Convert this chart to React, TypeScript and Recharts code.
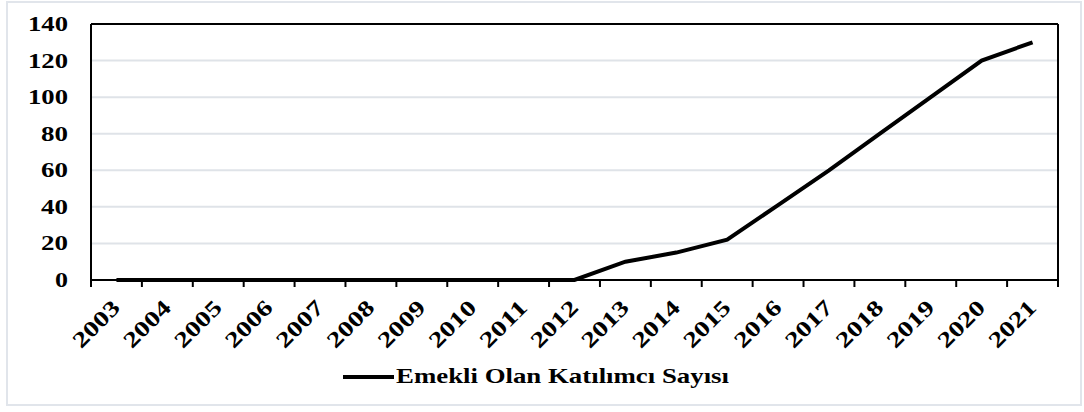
import { LineChart, Line, XAxis, YAxis, CartesianGrid, Legend, ReferenceLine } from "recharts";

const years = [2003, 2004, 2005, 2006, 2007, 2008, 2009, 2010, 2011, 2012, 2013, 2014, 2015, 2016, 2017, 2018, 2019, 2020, 2021];
const retired = [0, 0, 0, 0, 0, 0, 0, 0, 0, 0, 10, 15, 22, 41, 60, 80, 100, 120, 130];
const yTicks = [0, 20, 40, 60, 80, 100, 120, 140];
const seriesName = "Emekli Olan Katılımcı Sayısı";

const data = years.map((year, i) => ({ year, value: retired[i] }));
const edges = [...years.map((y) => y - 0.5), years[years.length - 1] + 0.5];
const domain: [number, number] = [edges[0], edges[edges.length - 1]];

const FONT = '"Liberation Serif", "Times New Roman", serif';

function YearTick({ x, y, payload }: { x?: number; y?: number; payload?: { value: number } }) {
  return (
    <g transform={`translate(${(x ?? 0) + 5},${(y ?? 0) + 20})`}>
      <text
        transform="rotate(-45)"
        textAnchor="end"
        fontFamily={FONT}
        fontWeight="bold"
        fontSize={22}
        fill="#000"
        textLength={57}
        lengthAdjust="spacingAndGlyphs"
      >
        {payload?.value}
      </text>
    </g>
  );
}

function ValueTick({ x, y, payload }: { x?: number; y?: number; payload?: { value: number } }) {
  const label = String(payload?.value ?? "");
  return (
    <text
      x={(x ?? 0) + 1}
      y={(y ?? 0) + 7}
      textAnchor="end"
      fontFamily={FONT}
      fontWeight="bold"
      fontSize={20}
      fill="#000"
      textLength={Math.round(label.length * 13.4)}
      lengthAdjust="spacingAndGlyphs"
    >
      {label}
    </text>
  );
}

function LegendContent() {
  return (
    <div style={{ display: "flex", justifyContent: "center", paddingLeft: 14, height: 44 }}>
      <svg width={386} height={44}>
        <line x1={0} x2={51} y1={17} y2={17} stroke="#000" strokeWidth={4} />
        <text
          x={53}
          y={23}
          fontFamily={FONT}
          fontWeight="bold"
          fontSize={22}
          fill="#000"
          textLength={333}
          lengthAdjust="spacingAndGlyphs"
        >
          {seriesName}
        </text>
      </svg>
    </div>
  );
}

export default function App() {
  return (
    <div style={{ position: "absolute", left: 0, top: 0, width: 1084, height: 412, background: "#fff" }}>
      <div
        style={{
          position: "absolute",
          left: 6,
          top: 1,
          width: 1076,
          height: 405,
          border: "2px solid #e1e5eb",
          boxSizing: "border-box",
        }}
      />
      <div style={{ position: "absolute", left: 0, top: 0 }}>
        <LineChart width={1084} height={412} data={data} margin={{ top: 24, right: 26, bottom: 8, left: 0 }}>
          <CartesianGrid vertical={false} stroke="#dfe3e8" strokeWidth={2} xAxisId="years" />
          <XAxis
            xAxisId="edges"
            dataKey="year"
            type="number"
            domain={domain}
            ticks={edges}
            interval={0}
            tick={() => <g />}
            tickLine={{ stroke: "#000", strokeWidth: 2 }}
            tickSize={7}
            axisLine={{ stroke: "#000", strokeWidth: 2 }}
            height={1}
          />
          <XAxis
            xAxisId="years"
            dataKey="year"
            type="number"
            domain={domain}
            ticks={years}
            interval={0}
            tick={<YearTick />}
            tickLine={false}
            axisLine={false}
            height={79}
          />
          <YAxis
            domain={[0, 140]}
            ticks={yTicks}
            interval={0}
            width={91}
            tick={<ValueTick />}
            tickLine={false}
            tickSize={6}
            tickMargin={18}
            axisLine={{ stroke: "#000", strokeWidth: 2 }}
          />
          <ReferenceLine y={140} xAxisId="years" stroke="#000" strokeWidth={2} />
          <ReferenceLine x={domain[1]} xAxisId="years" stroke="#000" strokeWidth={2} />
          <Legend verticalAlign="bottom" height={44} content={<LegendContent />} />
          <Line
            xAxisId="years"
            type="linear"
            dataKey="value"
            name={seriesName}
            stroke="#000"
            strokeWidth={4}
            dot={false}
            activeDot={false}
            isAnimationActive={false}
          />
        </LineChart>
      </div>
    </div>
  );
}
